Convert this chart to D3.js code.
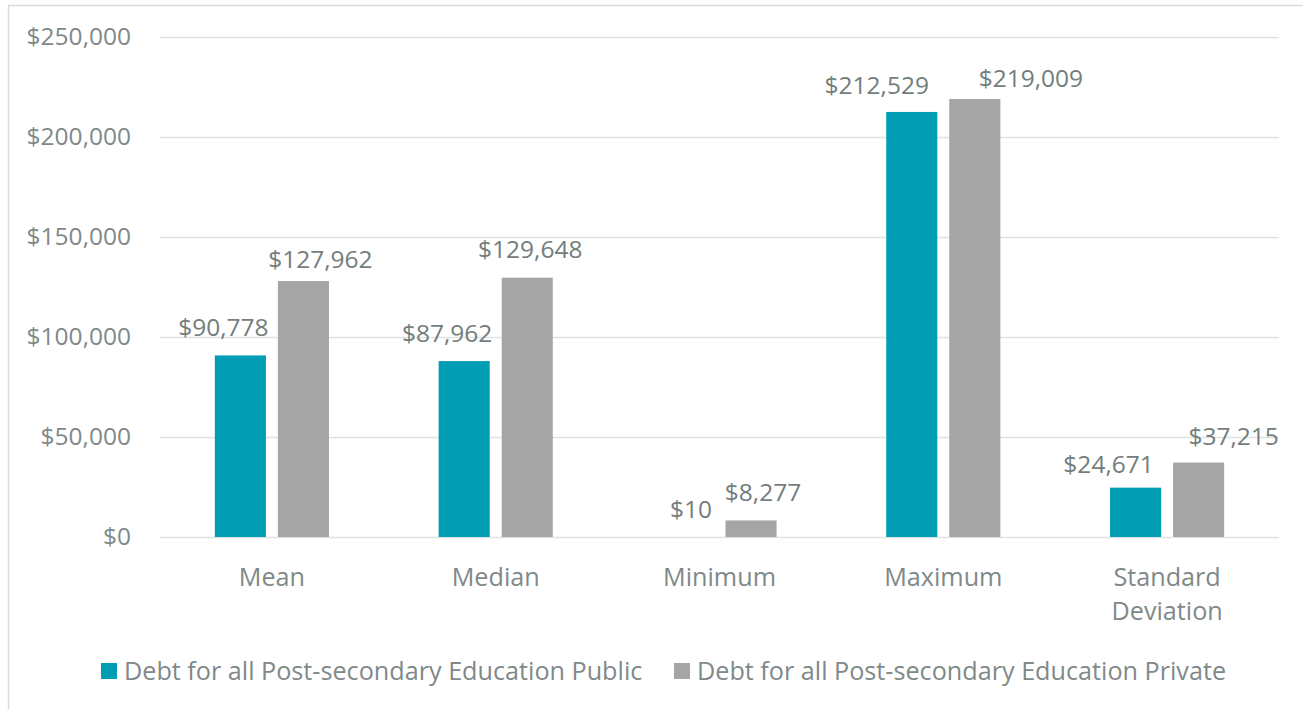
<!DOCTYPE html>
<html>
<head>
<meta charset="utf-8">
<script src="https://cdn.jsdelivr.net/npm/d3@7"></script>
<style>
  html, body { margin: 0; padding: 0; background: #fff; }
  svg { display: block; font-family: "Open Sans", "Noto Sans", sans-serif; }
</style>
</head>
<body>
<svg id="chart" width="1303" height="709"></svg>
<script>
// ---- data ----
const categories = ["Mean", "Median", "Minimum", "Maximum", "Standard Deviation"];
const seriesNames = ["Debt for all Post-secondary Education Public", "Debt for all Post-secondary Education Private"];
const publicValues = [90778, 87962, 10, 212529, 24671];
const privateValues = [127962, 129648, 8277, 219009, 37215];
const yTicks = [0, 50000, 100000, 150000, 200000, 250000];

// ---- layout / style ----
const colors = ["#009db5", "#a5a5a5"];
const textColor = "#7f8989";
const labelColor = "#737d7d";
const gridColor = "#dde2e2";
const numSize = 24.5;
const wordSize = 25.2;
// label nudges (px) to mimic the reference placements
const labelDx = [[-17, -17, 3, -35, -27], [17, 3, 12, 56, 35]];
const labelDy = [[-19, -19, -19, -18, -15], [-13, -20, -19, -12, -18]];

const svg = d3.select("#chart");
const W = 1303, H = 709;
const plot = { left: 160, right: 1279, top: 37, bottom: 537 };

// chart border (left and top visible)
svg.append("line").attr("x1", 8.5).attr("x2", 8.5).attr("y1", 5).attr("y2", H)
  .attr("stroke", "#d9dcdc").attr("stroke-width", 1.5);
svg.append("line").attr("x1", 8).attr("x2", W).attr("y1", 5.5).attr("y2", 5.5)
  .attr("stroke", "#d9dcdc").attr("stroke-width", 1.5);

const y = d3.scaleLinear().domain([0, 250000]).range([plot.bottom, plot.top]);
const x0 = d3.scaleBand().domain(categories).range([plot.left, plot.right]).padding(0);
const bw = x0.bandwidth();
const groupFrac = 0.51;
const x1 = d3.scaleBand().domain(d3.range(2))
  .range([bw * (1 - groupFrac) / 2, bw * (1 + groupFrac) / 2])
  .paddingInner(0.19).paddingOuter(0);

// gridlines
const yAxis = d3.axisLeft(y).tickValues(yTicks)
  .tickSize(-(plot.right - plot.left)).tickPadding(29)
  .tickFormat(d => "$" + d3.format(",")(d));
const gy = svg.append("g").attr("transform", `translate(${plot.left},0)`).call(yAxis);
gy.select(".domain").remove();
gy.selectAll(".tick line").attr("stroke", gridColor).attr("stroke-width", 1.5);
gy.selectAll(".tick text").attr("fill", textColor).style("font-size", numSize + "px")
  .style("font-family", "'Open Sans', 'Noto Sans', sans-serif");

// bars
const series = [publicValues, privateValues];
series.forEach((vals, si) => {
  const g = svg.append("g");
  g.selectAll("rect").data(vals).join("rect")
    .attr("x", (d, i) => x0(categories[i]) + x1(si))
    .attr("width", x1.bandwidth())
    .attr("y", d => y(d))
    .attr("height", d => y(0) - y(d))
    .attr("fill", colors[si]);
  g.selectAll("text").data(vals).join("text")
    .attr("x", (d, i) => x0(categories[i]) + x1(si) + x1.bandwidth() / 2 + labelDx[si][i])
    .attr("y", (d, i) => y(d) + labelDy[si][i])
    .attr("text-anchor", "middle")
    .attr("fill", labelColor)
    .style("font-size", numSize + "px")
    .text(d => "$" + d3.format(",")(d));
});

// x axis category labels
const xAxis = d3.axisBottom(x0).tickSize(0).tickPadding(0);
const gx = svg.append("g").attr("transform", `translate(0,${plot.bottom})`).call(xAxis);
gx.select(".domain").remove();
gx.selectAll(".tick text").remove();
gx.selectAll(".tick").each(function(d) {
  const words = d === "Standard Deviation" ? ["Standard", "Deviation"] : [d];
  const t = d3.select(this).append("text")
    .attr("text-anchor", "middle").attr("fill", textColor)
    .style("font-size", wordSize + "px")
    .style("font-family", "'Open Sans', 'Noto Sans', sans-serif");
  words.forEach((w, k) => {
    t.append("tspan").attr("x", 0).attr("y", 49 + k * 34).text(w);
  });
});

// legend
const legend = svg.append("g").attr("transform", "translate(0,671)");
const legendX = [101, 674];
seriesNames.forEach((name, i) => {
  const lg = legend.append("g").attr("transform", `translate(${legendX[i]},0)`);
  lg.append("rect").attr("x", 0).attr("y", -8).attr("width", 16).attr("height", 16).attr("fill", colors[i]);
  lg.append("text").attr("x", 23).attr("y", 9).attr("fill", textColor)
    .style("font-size", wordSize + "px").text(name);
});
</script>
</body>
</html>
